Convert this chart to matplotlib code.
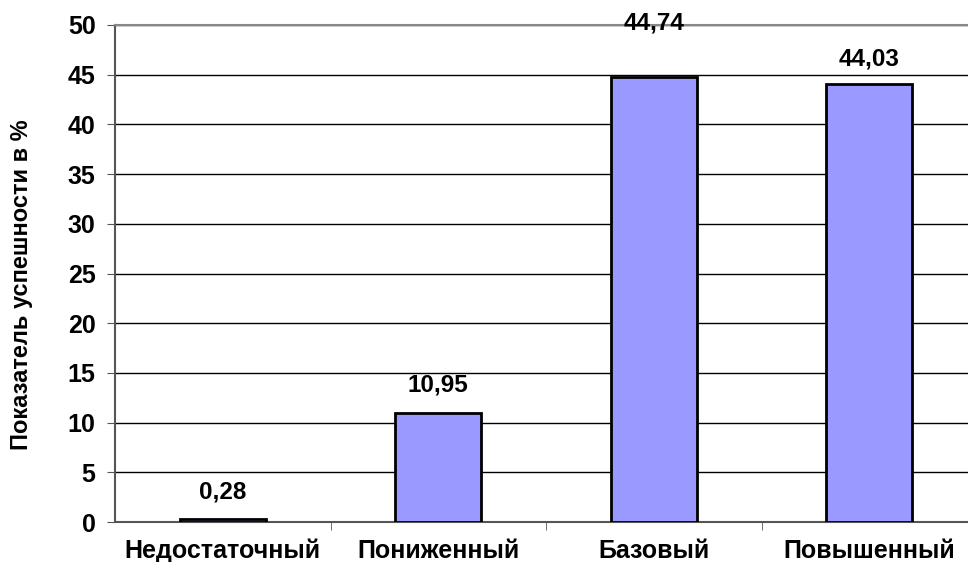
import matplotlib.pyplot as plt

categories = ['Недостаточный', 'Пониженный', 'Базовый', 'Повышенный']
values = [0.28, 10.95, 44.74, 44.03]
labels = ['0,28', '10,95', '44,74', '44,03']
yticks = [0, 5, 10, 15, 20, 25, 30, 35, 40, 45, 50]

# distance of each value label above its bar (in % units)
label_offsets = [2.7, 2.8, 5.5, 2.5]

plt.rcParams['font.family'] = ['Liberation Sans', 'DejaVu Sans']
plt.rcParams['font.weight'] = 'bold'

fig = plt.figure(figsize=(9.68, 5.62), dpi=100)
ax = fig.add_axes([115 / 968, 40 / 562, 853 / 968, 497 / 562])

x = range(len(categories))
ax.bar(x, values, width=0.4, color='#9999ff', edgecolor='black', linewidth=2, zorder=3)

for xi, v, lab, off in zip(x, values, labels, label_offsets):
    ax.text(xi, v + off, lab, ha='center', va='center', fontsize=17.5,
            fontweight='bold', clip_on=False)

ax.set_ylim(0, 50)
ax.set_xlim(-0.5, 3.458)
ax.set_yticks(yticks)
ax.yaxis.grid(True, color='black', linewidth=1)
ax.set_axisbelow(True)

ax.set_xticks(x)
ax.set_xticklabels(categories, fontsize=18, fontweight='bold')
ax.set_xticks([0.5, 1.5, 2.5], minor=True)
ax.tick_params(axis='x', which='major', length=0, pad=12)
ax.tick_params(axis='x', which='minor', length=6, color='#555555')
ax.tick_params(axis='y', length=6, color='#555555', labelsize=18, pad=8)
for lab in ax.get_yticklabels():
    lab.set_fontweight('bold')

ax.spines['top'].set_color('#888888')
ax.spines['top'].set_linewidth(1.5)
ax.spines['right'].set_visible(False)
ax.spines['left'].set_color('#555555')
ax.spines['left'].set_linewidth(1.5)
ax.spines['bottom'].set_color('#555555')
ax.spines['bottom'].set_linewidth(1.5)

ax.set_ylabel('Показатель успешности в %', fontsize=17, fontweight='bold')
ax.yaxis.set_label_coords(-0.096, 0.477)

fig.savefig('out.png', dpi=100)
